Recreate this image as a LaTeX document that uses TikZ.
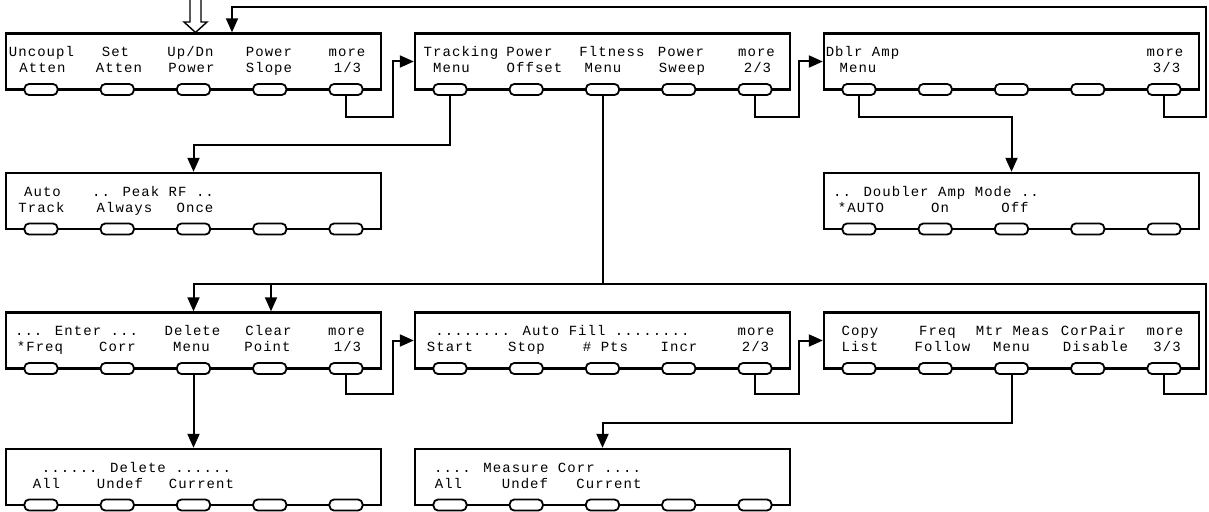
\documentclass[tikz,border=0pt]{standalone}
\usepackage{fontspec}
\newfontfamily\lcdfont{Liberation Mono}[LetterSpace=7.5]
\usetikzlibrary{arrows.meta}

\begin{document}
\begin{tikzpicture}[x=1pt,y=-1pt,>={Triangle[length=14pt,width=12pt]},line join=miter,
  panel/.style={draw,line width=2.4pt,minimum width=375pt,minimum height=56pt,inner sep=0pt},
  key/.style={draw,fill=white,line width=1.8pt,rounded corners=4.5pt,minimum width=33pt,minimum height=11pt,inner sep=0pt},
  lbl/.style={anchor=base,inner sep=0pt,font=\fontsize{14}{16}\lcdfont},
  link/.style={->,line width=2pt}]
\useasboundingbox (0,0) rectangle (1209,511);
% panels
\node[panel] (m1) at (193.5,61.5) {};
\node[panel] (m2) at (602.5,61.5) {};
\node[panel] (m3) at (1011.5,61.5) {};
\node[panel] (trk) at (193.5,201) {};
\node[panel] (dbl) at (1011.5,201) {};
\node[panel] (f1) at (193.5,340.5) {};
\node[panel] (f2) at (602.5,340.5) {};
\node[panel] (f3) at (1011.5,340.5) {};
\node[panel] (del) at (193.5,477) {};
\node[panel] (mc) at (602.5,477) {};
% softkeys
\node[key] (m1-1) at (41,89.5) {};
\node[key] (m1-2) at (117.25,89.5) {};
\node[key] (m1-3) at (193.5,89.5) {};
\node[key] (m1-4) at (269.75,89.5) {};
\node[key] (m1-5) at (346,89.5) {};
\node[key] (m2-1) at (450,89.5) {};
\node[key] (m2-2) at (526.25,89.5) {};
\node[key] (m2-3) at (602.5,89.5) {};
\node[key] (m2-4) at (678.75,89.5) {};
\node[key] (m2-5) at (755,89.5) {};
\node[key] (m3-1) at (859,89.5) {};
\node[key] (m3-2) at (935.25,89.5) {};
\node[key] (m3-3) at (1011.5,89.5) {};
\node[key] (m3-4) at (1087.75,89.5) {};
\node[key] (m3-5) at (1164,89.5) {};
\node[key] (trk-1) at (41,229) {};
\node[key] (trk-2) at (117.25,229) {};
\node[key] (trk-3) at (193.5,229) {};
\node[key] (trk-4) at (269.75,229) {};
\node[key] (trk-5) at (346,229) {};
\node[key] (dbl-1) at (859,229) {};
\node[key] (dbl-2) at (935.25,229) {};
\node[key] (dbl-3) at (1011.5,229) {};
\node[key] (dbl-4) at (1087.75,229) {};
\node[key] (dbl-5) at (1164,229) {};
\node[key] (f1-1) at (41,368.5) {};
\node[key] (f1-2) at (117.25,368.5) {};
\node[key] (f1-3) at (193.5,368.5) {};
\node[key] (f1-4) at (269.75,368.5) {};
\node[key] (f1-5) at (346,368.5) {};
\node[key] (f2-1) at (450,368.5) {};
\node[key] (f2-2) at (526.25,368.5) {};
\node[key] (f2-3) at (602.5,368.5) {};
\node[key] (f2-4) at (678.75,368.5) {};
\node[key] (f2-5) at (755,368.5) {};
\node[key] (f3-1) at (859,368.5) {};
\node[key] (f3-2) at (935.25,368.5) {};
\node[key] (f3-3) at (1011.5,368.5) {};
\node[key] (f3-4) at (1087.75,368.5) {};
\node[key] (f3-5) at (1164,368.5) {};
\node[key] (del-1) at (41,505) {};
\node[key] (del-2) at (117.25,505) {};
\node[key] (del-3) at (193.5,505) {};
\node[key] (del-4) at (269.75,505) {};
\node[key] (del-5) at (346,505) {};
\node[key] (mc-1) at (450,505) {};
\node[key] (mc-2) at (526.25,505) {};
\node[key] (mc-3) at (602.5,505) {};
\node[key] (mc-4) at (678.75,505) {};
\node[key] (mc-5) at (755,505) {};
% labels
\node[lbl] (m1-a1) at (41.5,56.5) {Uncoupl};
\node[lbl] (m1-a2) at (115.5,56.5) {Set};
\node[lbl] (m1-a3) at (190.5,56.5) {Up/Dn};
\node[lbl] (m1-a4) at (269,56.5) {Power};
\node[lbl] (m1-a5) at (347,56.5) {more};
\node[lbl] (m1-b1) at (42.5,72.5) {Atten};
\node[lbl] (m1-b2) at (119,72.5) {Atten};
\node[lbl] (m1-b3) at (191.5,72.5) {Power};
\node[lbl] (m1-b4) at (269,72.5) {Slope};
\node[lbl] (m1-b5) at (347.5,72.5) {1/3};
\node[lbl] (m2-a1) at (461,56.5) {Tracking};
\node[lbl] (m2-a2) at (529.5,56.5) {Power};
\node[lbl] (m2-a3) at (612,56.5) {Fltness};
\node[lbl] (m2-a4) at (681,56.5) {Power};
\node[lbl] (m2-a5) at (756.5,56.5) {more};
\node[lbl] (m2-b1) at (451.5,72.5) {Menu};
\node[lbl] (m2-b2) at (534.5,72.5) {Offset};
\node[lbl] (m2-b3) at (603,72.5) {Menu};
\node[lbl] (m2-b4) at (682,72.5) {Sweep};
\node[lbl] (m2-b5) at (757.5,72.5) {2/3};
\node[lbl] (m3-a1) at (862.5,56.5) {Dblr Amp};
\node[lbl] (m3-a5) at (1165,56.5) {more};
\node[lbl] (m3-b1) at (858,72.5) {Menu};
\node[lbl] (m3-b5) at (1166.5,72.5) {3/3};
\node[lbl] (trk-a1) at (42.5,196) {Auto};
\node[lbl] (trk-a2) at (153,196) {.. Peak RF ..};
\node[lbl] (trk-b1) at (41.5,212) {Track};
\node[lbl] (trk-b2) at (124.5,212) {Always};
\node[lbl] (trk-b3) at (195,212) {Once};
\node[lbl] (dbl-a1) at (936,196) {.. Doubler Amp Mode ..};
\node[lbl] (dbl-b1) at (861,212) {*AUTO};
\node[lbl] (dbl-b2) at (940,212) {On};
\node[lbl] (dbl-b3) at (1015,212) {Off};
\node[lbl] (f1-a1) at (76.5,335.5) {... Enter ...};
\node[lbl] (f1-a3) at (192.5,335.5) {Delete};
\node[lbl] (f1-a4) at (268.5,335.5) {Clear};
\node[lbl] (f1-a5) at (346.5,335.5) {more};
\node[lbl] (f1-b1) at (40,351.5) {*Freq};
\node[lbl] (f1-b2) at (117.5,351.5) {Corr};
\node[lbl] (f1-b3) at (191.5,351.5) {Menu};
\node[lbl] (f1-b4) at (267.5,351.5) {Point};
\node[lbl] (f1-b5) at (347.5,351.5) {1/3};
\node[lbl] (f2-a1) at (562.5,335.5) {........ Auto Fill ........};
\node[lbl] (f2-a5) at (756,335.5) {more};
\node[lbl] (f2-b1) at (450,351.5) {Start};
\node[lbl] (f2-b2) at (526.5,351.5) {Stop};
\node[lbl] (f2-b3) at (605.5,351.5) {\# Pts};
\node[lbl] (f2-b4) at (679,351.5) {Incr};
\node[lbl] (f2-b5) at (755.5,351.5) {2/3};
\node[lbl] (f3-a1) at (860,335.5) {Copy};
\node[lbl] (f3-a2) at (937.5,335.5) {Freq};
\node[lbl] (f3-a3) at (1012.5,335.5) {Mtr Meas};
\node[lbl] (f3-a4) at (1093.5,335.5) {CorPair};
\node[lbl] (f3-a5) at (1165,335.5) {more};
\node[lbl] (f3-b1) at (860,351.5) {List};
\node[lbl] (f3-b2) at (942.5,351.5) {Follow};
\node[lbl] (f3-b3) at (1011.5,351.5) {Menu};
\node[lbl] (f3-b4) at (1095.5,351.5) {Disable};
\node[lbl] (f3-b5) at (1167,351.5) {3/3};
\node[lbl] (del-a1) at (136.5,472) {...... Delete ......};
\node[lbl] (del-b1) at (46.5,488) {All};
\node[lbl] (del-b2) at (120,488) {Undef};
\node[lbl] (del-b3) at (201.5,488) {Current};
\node[lbl] (mc-a1) at (537.5,472) {.... Measure Corr ....};
\node[lbl] (mc-b1) at (448.5,488) {All};
\node[lbl] (mc-b2) at (525,488) {Undef};
\node[lbl] (mc-b3) at (609,488) {Current};
% entry arrow
\coordinate (in) at (195.5,32.5);
\draw[line width=1.4pt] (190,0) -- (190,22) -- (184,22) -- (in) -- (207,22) -- (201,22) -- (201,0);
% bend points
\coordinate (r1a) at (393,117);
\coordinate (r1b) at (799,117);
\coordinate (r1c) at (1206,117);
\coordinate (top1) at (232,7);
\coordinate (tk) at (193.5,145);
\coordinate (ft) at (193.5,284);
\coordinate (db) at (1011.5,117);
\coordinate (r3a) at (393,394);
\coordinate (r3b) at (799,394);
\coordinate (r3c) at (1206,394);
\coordinate (top3) at (271,284);
\coordinate (mm) at (602.5,423);
% links
\draw[link] (m1-5.south) |- (r1a) |- (m2.west);
\draw[link] (m2-5.south) |- (r1b) |- (m3.west);
\draw[link] (m3-5.south) |- (r1c) |- (top1) -- (top1 |- m1.north);
\draw[link] (m2-1.south) |- (tk) -- (trk.north);
\draw[link] (m2-3.south) |- (ft) -- (f1.north);
\draw[link] (m3-1.south) |- (db) -- (dbl.north);
\draw[link] (f1-5.south) |- (r3a) |- (f2.west);
\draw[link] (f2-5.south) |- (r3b) |- (f3.west);
\draw[link] (f3-5.south) |- (r3c) |- (top3) -- (top3 |- f1.north);
\draw[link] (f3-3.south) |- (mm) -- (mc.north);
\draw[link] (f1-3.south) -- (del.north);
\end{tikzpicture}
\end{document}
